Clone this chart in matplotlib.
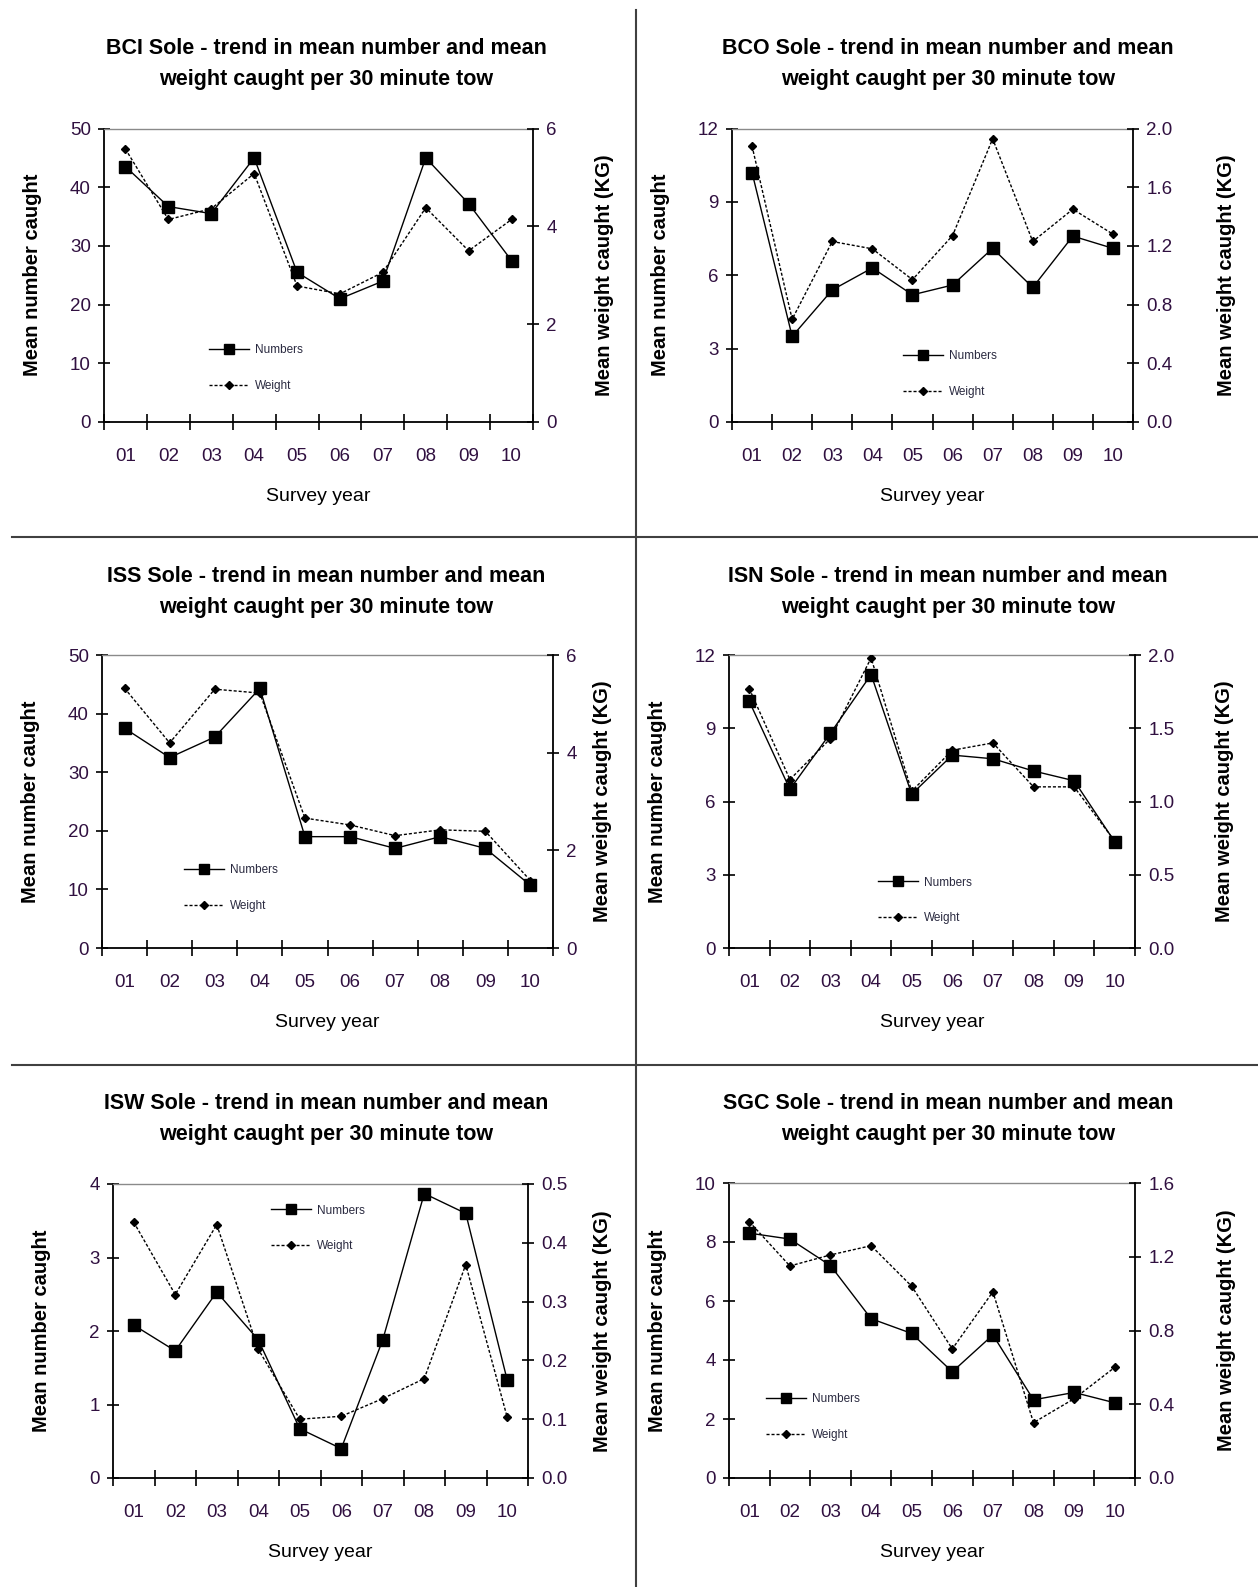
import numpy as np
import matplotlib.pyplot as plt
from matplotlib.lines import Line2D

years = ['01', '02', '03', '04', '05', '06', '07', '08', '09', '10']

# mean number / mean weight (kg) per 30 minute tow
bci_numbers = [43.5, 36.7, 35.5, 45.0, 25.5, 21.0, 24.0, 45.0, 37.2, 27.5]
bci_weight = [5.58, 4.14, 4.36, 5.08, 2.78, 2.62, 3.06, 4.38, 3.50, 4.14]

bco_numbers = [10.2, 3.5, 5.4, 6.3, 5.2, 5.6, 7.1, 5.5, 7.6, 7.1]
bco_weight = [1.88, 0.70, 1.23, 1.18, 0.97, 1.27, 1.93, 1.23, 1.45, 1.28]

iss_numbers = [37.5, 32.5, 36.0, 44.3, 19.0, 19.0, 17.0, 19.0, 17.0, 10.7]
iss_weight = [5.32, 4.20, 5.30, 5.22, 2.66, 2.52, 2.30, 2.42, 2.39, 1.38]

isn_numbers = [10.1, 6.5, 8.8, 11.2, 6.3, 7.9, 7.75, 7.25, 6.85, 4.35]
isn_weight = [1.77, 1.15, 1.43, 1.98, 1.07, 1.35, 1.40, 1.10, 1.10, 0.73]

isw_numbers = [2.08, 1.73, 2.53, 1.88, 0.67, 0.40, 1.88, 3.87, 3.60, 1.33]
isw_weight = [0.435, 0.312, 0.431, 0.219, 0.100, 0.105, 0.135, 0.169, 0.363, 0.103]

sgc_numbers = [8.3, 8.1, 7.2, 5.4, 4.9, 3.6, 4.85, 2.65, 2.9, 2.55]
sgc_weight = [1.39, 1.15, 1.21, 1.26, 1.04, 0.70, 1.01, 0.30, 0.43, 0.60]

font = ['Liberation Sans', 'DejaVu Sans']
tick_col = '#301040'

W, H = 1258, 1587
fig = plt.figure(figsize=(W / 100, H / 100), dpi=100)


def box(l, r, t, b):
    return [l / W, 1 - b / H, (r - l) / W, (b - t) / H]


def panel(pix, name, numbers, weight, nmax, nstep, wmax, wstep, wfmt, leg_xy, title_xy, rlab):
    l, r, t, b = pix
    ax = fig.add_axes(box(l, r, t, b))
    x = np.arange(len(years)) + 0.5
    l1, = ax.plot(x, numbers, color='black', lw=1, marker='s', ms=9, label='Numbers')
    ax2 = ax.twinx()
    l2, = ax2.plot(x, weight, color='black', lw=1, ls=(0, (2.2, 1.4)), marker='D', ms=4.5,
                   label='Weight')

    ax.set_xlim(0, len(years))
    ax.set_ylim(0, nmax)
    ax2.set_ylim(0, wmax)
    ax.set_yticks(np.arange(0, nmax + nstep / 2, nstep))
    wt = np.arange(0, wmax + wstep / 2, wstep)
    ax2.set_yticks(wt)
    ax2.set_yticklabels([wfmt.format(v) for v in wt])

    ax.set_xticks(np.arange(len(years) + 1))
    ax.set_xticklabels([])
    ax.set_xticks(x, minor=True)
    ax.set_xticklabels(years, minor=True)
    ax.tick_params(axis='x', which='major', direction='inout', length=11, width=1.2)
    ax.tick_params(axis='x', which='minor', length=0, pad=19, labelsize=13.5,
                   labelcolor=tick_col)
    ax.tick_params(axis='y', direction='inout', length=9, width=1.2, labelsize=13.5,
                   labelcolor=tick_col, pad=5)
    ax2.tick_params(axis='y', direction='inout', length=9, width=1.2, labelsize=13.5,
                    labelcolor=tick_col, pad=5)
    for lab in ax.get_xticklabels(minor=True) + ax.get_yticklabels() + ax2.get_yticklabels():
        lab.set_family(font)

    for s in ['left', 'bottom']:
        ax.spines[s].set_linewidth(1.3)
    ax.spines['right'].set_visible(False)
    ax.spines['top'].set_color('#8a8a8a')
    ax.spines['top'].set_linewidth(1)
    for s in ['left', 'bottom', 'top']:
        ax2.spines[s].set_visible(False)
    ax2.spines['right'].set_linewidth(1.3)

    ax.set_xlabel('Survey year', fontsize=14, family=font, labelpad=16)
    ax.text(-71 / (r - l), 0.5, 'Mean number caught', transform=ax.transAxes, rotation=90,
            ha='center', va='center', fontsize=14.5, fontweight='bold', family=font)
    ax.text(1 + rlab / (r - l), 0.5, 'Mean weight caught (KG)', transform=ax.transAxes,
            rotation=90, ha='center', va='center', fontsize=14.5, fontweight='bold',
            family=font)

    ax2.legend([l1, l2], ['Numbers', 'Weight'], loc='upper left', bbox_to_anchor=leg_xy,
               bbox_transform=ax.transAxes, frameon=False, prop={'family': font, 'size': 8.5},
               labelcolor='#2a2a40', handlelength=3.4, handletextpad=0.5, labelspacing=2.0,
               borderpad=0, borderaxespad=0, markerscale=0.8)

    fig.text(title_xy[0] / W, 1 - title_xy[1] / H,
             name + ' Sole - trend in mean number and mean\nweight caught per 30 minute tow',
             ha='center', va='center', fontsize=15.5, fontweight='bold', family=font,
             linespacing=1.6)


panel((104, 533, 128.5, 422), 'BCI', bci_numbers, bci_weight, 50, 10, 6, 2, '{:.0f}',
      (0.245, 0.265), (326, 64), 71)
panel((732, 1133, 128.5, 422), 'BCO', bco_numbers, bco_weight, 12, 3, 2.0, 0.4, '{:.1f}',
      (0.426, 0.244), (948, 64), 94)
panel((102, 553, 655, 948), 'ISS', iss_numbers, iss_weight, 50, 10, 6, 2, '{:.0f}',
      (0.182, 0.286), (326, 592), 50)
panel((729, 1135, 655, 948), 'ISN', isn_numbers, isn_weight, 12, 3, 2.0, 0.5, '{:.1f}',
      (0.366, 0.244), (948, 592), 90)
panel((113, 528, 1184, 1478), 'ISW', isw_numbers, isw_weight, 4, 1, 0.5, 0.1, '{:.1f}',
      (0.38, 0.93), (326, 1119), 75)
panel((729, 1135, 1183, 1478), 'SGC', sgc_numbers, sgc_weight, 10, 2, 1.6, 0.4, '{:.1f}',
      (0.09, 0.288), (948, 1119), 92)

# panel dividers
fig.add_artist(Line2D([636 / W, 636 / W], [1 - 10 / H, 0], color='#404040', lw=1.5))
for yy in [537, 1065]:
    fig.add_artist(Line2D([12 / W, 1], [1 - yy / H, 1 - yy / H], color='#404040', lw=1.5))

fig.savefig('out.png', dpi=100)
